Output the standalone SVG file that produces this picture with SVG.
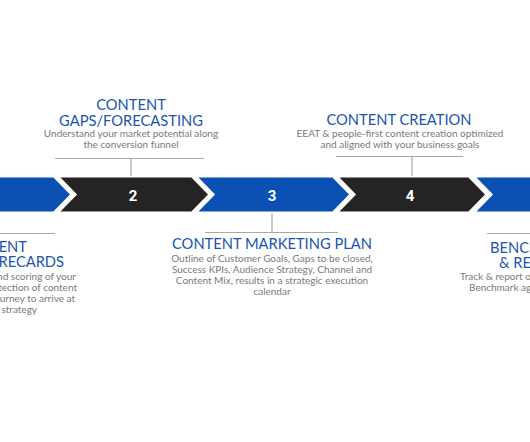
<svg xmlns="http://www.w3.org/2000/svg" width="530" height="442" viewBox="0 0 530 442">
<style>
.blue{fill:#0b50b3;stroke:#fff;stroke-width:3;stroke-linejoin:miter}
.dark{fill:#242424;stroke:#fff;stroke-width:3;stroke-linejoin:miter}
.num{font-family:Roboto,"Liberation Sans",sans-serif;font-weight:bold;font-size:15px;fill:#fff;text-anchor:middle}
.title{font-family:Lato,"Noto Sans",sans-serif;font-size:14.7px;fill:#1a55b0;text-anchor:middle}
.desc{font-family:Lato,"Noto Sans",sans-serif;font-size:10px;fill:#7a7a7a;text-anchor:middle}
.line{stroke:#a8a8a8;stroke-width:1.2;fill:none}
</style>
<rect width="530" height="442" fill="#fff"/>
<g id="step1">
<polygon class="blue" points="-20,176 54,176 72,194.5 54,213 -20,213"/>
<text class="title" style="text-anchor:end" x="27" y="252">ENT</text>
<text class="title" style="text-anchor:end" x="64" y="267">RECARDS</text>
<text class="desc" style="text-anchor:end" x="76" y="280">nd scoring of your</text>
<text class="desc" style="text-anchor:end" x="77" y="291">etection of content</text>
<text class="desc" style="text-anchor:end" x="75" y="302">ourney to arrive at</text>
<text class="desc" style="text-anchor:end" x="37" y="313">strategy</text>
</g>
<g id="step2">
<polygon class="dark" points="57,176 192,176 210,194.5 192,213 57,213 75,194.5"/>
<text class="num" x="133" y="200.5">2</text>
<text class="title" x="131" y="109.5">CONTENT</text>
<text class="title" x="131" y="125.5">GAPS/FORECASTING</text>
<text class="desc" x="131" y="137">Understand your market potential along</text>
<text class="desc" x="131" y="148">the conversion funnel</text>
</g>
<g id="step3">
<polygon class="blue" points="195,176 333,176 351,194.5 333,213 195,213 213,194.5"/>
<text class="num" x="272" y="200.5">3</text>
<text class="title" x="272" y="249">CONTENT MARKETING PLAN</text>
<text class="desc" x="272" y="262">Outline of Customer Goals, Gaps to be closed,</text>
<text class="desc" x="272" y="273">Success KPIs, Audience Strategy, Channel and</text>
<text class="desc" x="272" y="284">Content Mix, results in a strategic execution</text>
<text class="desc" x="272" y="295">calendar</text>
</g>
<g id="step4">
<polygon class="dark" points="336,176 469,176 487,194.5 469,213 336,213 354,194.5"/>
<text class="num" x="410" y="200.5">4</text>
<text class="title" x="399" y="125">CONTENT CREATION</text>
<text class="desc" x="400" y="137">EEAT &amp; people-first content creation optimized</text>
<text class="desc" x="400" y="148">and aligned with your business goals</text>
</g>
<g id="step5">
<polygon class="blue" points="473,176 550,176 550,213 473,213 491,194.5"/>
<text class="title" style="text-anchor:start" x="490" y="253">BENC</text>
<text class="title" style="text-anchor:start" x="499" y="268">&amp; RE</text>
<text class="desc" style="text-anchor:start" x="460" y="280">Track &amp; report o</text>
<text class="desc" style="text-anchor:start" x="469" y="291">Benchmark ag</text>
</g>
<g id="connectors">
<path class="line" d="M55,158.5H204M131,158.5V176"/>
<path class="line" d="M336,156.5H463M412,156.5V176"/>
<path class="line" d="M205,232.5H338M272,213V232.5"/>
<path class="line" d="M0,233.5H55"/>
<path class="line" d="M487,233.5H530"/>
</g>
</svg>
